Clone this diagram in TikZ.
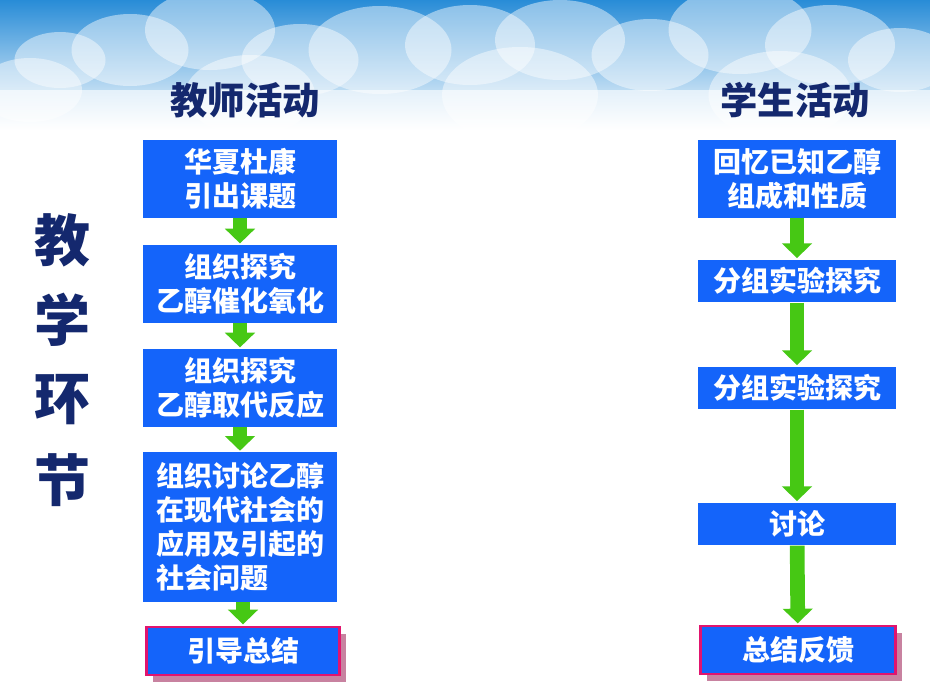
\documentclass[tikz,border=0pt]{standalone}
\usepackage{fontspec}
\setmainfont{Noto Sans CJK SC}
\usetikzlibrary{arrows.meta,shadows}
\tikzset{
 box/.style={fill=boxblue, text=white, align=center, font=\fontsize{21}{25.5}\selectfont\bfseries, inner sep=0pt},
 endbox/.style={box, draw=magentaline, line width=2pt, drop shadow={shadow xshift=5pt, shadow yshift=-5pt, fill=shadowpink, opacity=1}},
 garrow/.style={draw=arrowgreen, line width=11pt, -{Triangle[width=22pt,length=11pt]}, shorten >=1pt},
 head/.style={text=headblue, font=\fontsize{28}{32}\selectfont\bfseries},
 side/.style={text=headblue, font=\fontsize{42}{46}\selectfont\bfseries}
}
\definecolor{boxblue}{RGB}{20,100,250}
\definecolor{magentaline}{RGB}{225,20,110}
\definecolor{shadowpink}{RGB}{200,130,160}
\definecolor{arrowgreen}{RGB}{70,200,20}
\definecolor{headblue}{RGB}{20,40,110}
\definecolor{skyblue}{RGB}{40,140,215}
\begin{document}
\begin{tikzpicture}[x=0.75pt,y=-0.75pt]
\useasboundingbox (0,0) rectangle (930,697);
\fill[white] (0,0) rectangle (930,697);
\shade[top color=skyblue, bottom color=white] (0,0) rectangle (930,130);
\foreach \x/\y/\r in {60/60/35,130/50/45,210/30/50,300/60/45,380/50/55,470/45/50,560/40/50,650/55/45,740/30/55,830/45/50,900/60/40,30/90/40,250/95/50,520/95/60,780/95/55}
  \fill[white, opacity=0.45] (\x,\y) ellipse [x radius=\r*1.3, y radius=\r*0.8];
\shade[top color=white, bottom color=white, middle color=white, opacity=0.6] (0,90) rectangle (930,135);
\node[head] (th) at (245,100) {教师活动};
\node[head] (sh) at (795,100) {学生活动};
\node[side] (s1) at (62,240) {教};
\node[side] (s2) at (62,320) {学};
\node[side] (s3) at (62,400) {环};
\node[side] (s4) at (62,480) {节};
% teacher column
\node[box, minimum width=146pt, minimum height=58.5pt] (t1) at (240,179) {华夏杜康\\引出课题};
\node[box, minimum width=146pt, minimum height=58.5pt] (t2) at (240,284) {组织探究\\乙醇催化氧化};
\node[box, minimum width=146pt, minimum height=58.5pt] (t3) at (240,388) {组织探究\\乙醇取代反应};
\node[box, align=left, minimum width=146pt, minimum height=112pt] (t4) at (240,527) {组织讨论乙醇\\在现代社会的\\应用及引起的\\社会问题};
\node[endbox, minimum width=145pt, minimum height=36pt] (t5) at (243,651) {引导总结};
% student column
\node[box, minimum width=148pt, minimum height=58.5pt] (p1) at (797,179) {回忆已知乙醇\\组成和性质};
\node[box, minimum width=148pt, minimum height=32pt] (p2) at (797,281) {分组实验探究};
\node[box, minimum width=148pt, minimum height=32pt] (p3) at (797,388) {分组实验探究};
\node[box, minimum width=148pt, minimum height=32pt] (p4) at (797,524) {讨论};
\node[endbox, minimum width=146pt, minimum height=36pt] (p5) at (798,650) {总结反馈};
\draw[garrow] (t1) -- (t2);
\draw[garrow] (t2) -- (t3);
\draw[garrow] (t3) -- (t4);
\coordinate (c4) at (t4.south -| t5.north);
\draw[garrow] (c4) -- (t5);
\draw[garrow] (p1) -- (p2);
\draw[garrow] (p2) -- (p3);
\draw[garrow] (p3) -- (p4);
\draw[garrow] (p4) -- (p5);
\end{tikzpicture}
\end{document}
